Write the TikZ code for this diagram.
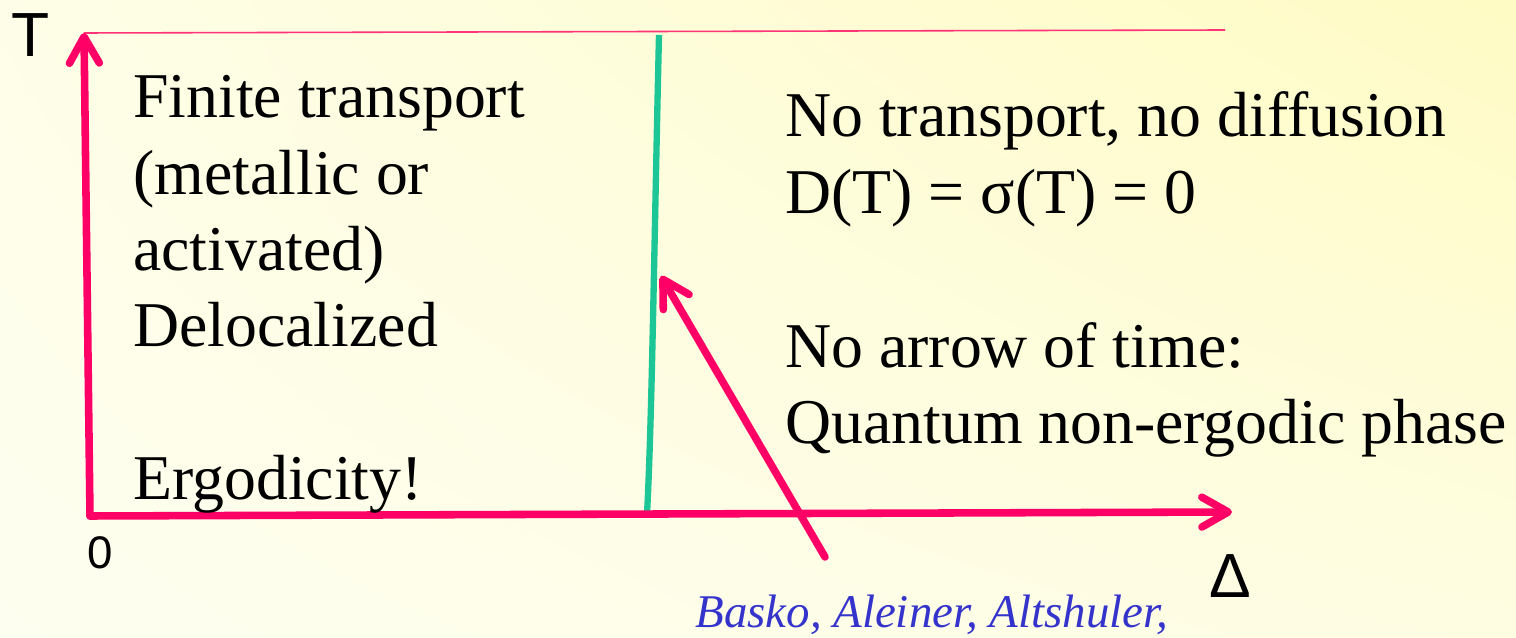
\documentclass[tikz,border=0pt]{standalone}
\usepackage{fontspec}
\setmainfont{Liberation Serif}
\newfontfamily\axfont{Liberation Sans}
\usetikzlibrary{arrows.meta,shadings}
\definecolor{axcol}{HTML}{FF0066}
\definecolor{topcol}{HTML}{FF3377}
\definecolor{phasecol}{HTML}{1CC696}
\definecolor{refcol}{HTML}{3434CC}
\definecolor{bgUL}{HTML}{FEFEE8}
\definecolor{bgUR}{HTML}{FFFBC4}
\definecolor{bgLL}{HTML}{FEFEF0}
\definecolor{bgLR}{HTML}{FEFDE2}
\tikzset{
  axis/.style={draw=axcol, line width=4.3pt, line cap=round, line join=round,
    -{Straight Barb[length=15pt,width=17pt,round]}},
  bodytext/.style={anchor=base west, inner sep=0pt, font=\fontsize{36.3}{43.6}\selectfont},
  axlabel/.style={inner sep=0pt, font=\axfont\fontsize{35.5}{40}\selectfont},
  reftext/.style={anchor=base west, inner sep=0pt, text=refcol, font=\itshape\fontsize{26.7}{30}\selectfont},
}
\begin{document}
\begin{tikzpicture}[x=0.02cm, y=-0.02cm]
\shade[upper left=bgUL, upper right=bgUR, lower left=bgLL, lower right=bgLR] (0,0) rectangle (1516,638);
\useasboundingbox (0,0) rectangle (1516,638);

% coordinates
\coordinate (origin) at (90,516);
\coordinate (ttip) at (84,33);
\coordinate (dtip) at (1232,512);
\coordinate (topend) at (1225,30);
\coordinate (gtop) at (659,35);
\coordinate (gbot) at (647,514);
\coordinate (ptail) at (825,557);
\coordinate (ptip) at (661,276);

% top boundary line
\draw[topcol, line width=0.9pt] (ttip) -- (topend);
% phase boundary
\draw[phasecol, line width=3.6pt] (gtop) .. controls (654,250) and (652,420) .. (gbot);
% axes
\draw[axis] (origin) -- (ttip);
\draw[axis] (origin) -- (dtip);
% pointer arrow
\draw[axis] (ptail) -- (ptip);

% axis labels
\node[axlabel] (tlab) at (31,35) {T};
\node[axlabel, font=\axfont\fontsize{26}{30}\selectfont] (zlab) at (100,553) {0};
\node[axlabel] (dlab) at (1230,576) {Δ};

% left region text
\node[bodytext] (l1) at (133,118) {Finite transport};
\node[bodytext] (l2) at (133,195) {(metallic or};
\node[bodytext] (l3) at (133,271) {activated)};
\node[bodytext] (l4) at (133,347) {Delocalized};
\node[bodytext] (l5) at (133,500) {Ergodicity!};

% right region text
\node[bodytext] (r1) at (785,137) {No transport, no diffusion};
\node[bodytext] (r2) at (785,214) {D(T) = σ(T) = 0};
\node[bodytext] (r3) at (785,368) {No arrow of time:};
\node[bodytext] (r4) at (785,444) {Quantum non-ergodic phase};

% reference
\node[reftext] (ref) at (695,628) {Basko, Aleiner, Altshuler,};
\end{tikzpicture}
\end{document}
